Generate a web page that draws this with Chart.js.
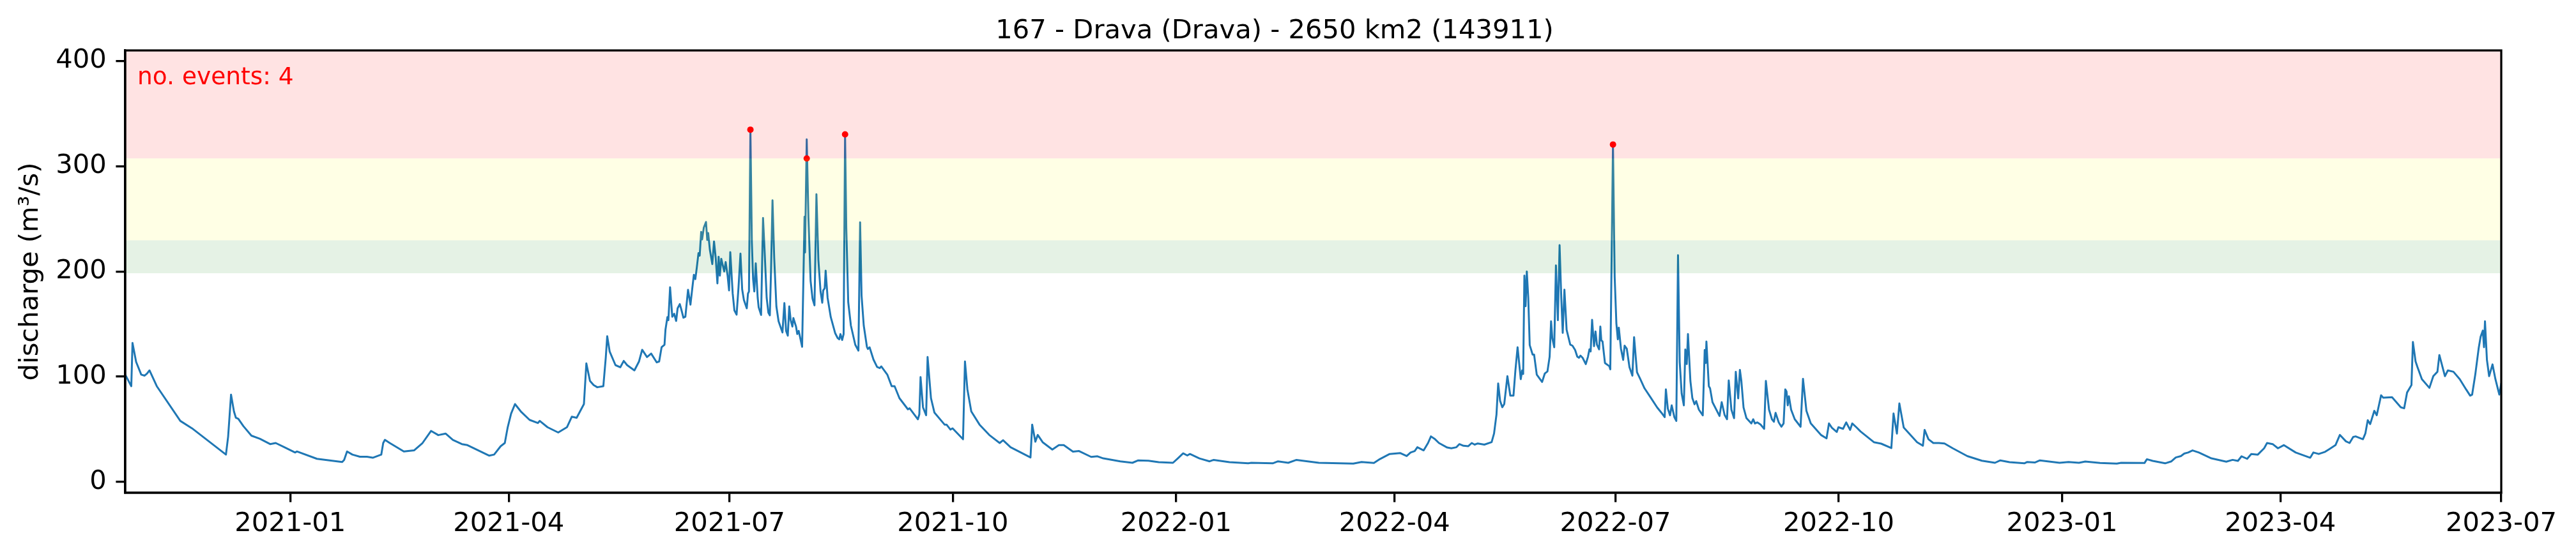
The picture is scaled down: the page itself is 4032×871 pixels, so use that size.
<!DOCTYPE html>
<html>
<head>
<meta charset="utf-8">
<title>Drava discharge</title>
<script src="https://cdn.jsdelivr.net/npm/chart.js@4"></script>
<style>
  body { margin: 0; background: #fff; }
  canvas { display: block; }
</style>
</head>
<body>
<canvas id="dischargeChart" width="4032" height="871"></canvas>
<script>
// x values are days since firstDay
var firstDay = "2020-10-25";
var lastDay = "2023-07-01";
var tickLabels = ["2021-01", "2021-04", "2021-07", "2021-10", "2022-01", "2022-04", "2022-07", "2022-10", "2023-01", "2023-04", "2023-07"];
var yTicks = [0, 100, 200, 300, 400];

var chartTitle = "167 - Drava (Drava) - 2650 km2 (143911)";
var yLabel = "discharge (m³/s)";
var eventsLabel = "no. events: 4";

var dayOffsets = [
  0,2.5,3,4.5,6.6,8,9,10,13,22.7,
  27.5,41.5,42.4,43.6,44.8,45.6,46.6,48.7,52,55.5,
  59.7,62,65.6,70,70.7,79,89.4,90.2,91.4,93.6,
  96.7,99.6,102,105.5,106.3,107,109,114.8,119,122.5,
  126,129,132,135,138.7,141,150,152,154.7,156.4,
  157.6,159,160.6,163,166.6,170,170.8,174,178.4,182,
  184,186,189,190,191.5,193,194.5,197,198,198.6,
  199.6,202,204,205.4,206.8,209.8,211.7,213,215,216.7,
  219,220,221,222.2,222.6,223.4,223.8,224.5,225.4,226.2,
  227,227.6,228.5,229,230,230.8,231.9,232.9,233.6,234.3,
  234.9,235.5,236.2,236.7,237.3,237.7,238.4,239.3,239.8,240.2,
  240.9,241.9,242.6,243.3,244,244.5,245,245.6,246.8,247.4,
  248.2,248.8,249.3,250.3,251,251.9,252.7,253.5,254.2,254.9,
  256.1,256.6,257,257.6,258.2,258.7,259.2,259.8,260.6,261,
  262,262.8,263.5,264.3,265,265.6,266.1,266.7,267.4,268.3,
  269.2,270.8,271.6,272.3,273,273.6,274.2,274.9,275.3,276.4,
  276.9,277.5,278.9,279.5,279.9,280.1,280.8,281.5,282.4,283.2,
  284,284.8,285.6,286.5,287.2,287.6,288.2,288.6,289.4,290.7,
  292.5,293.5,294.2,294.7,295.4,296,296.6,297.1,297.9,299,
  300.8,302.1,302.8,303.4,304.3,305.6,306,306.7,308.3,309.8,
  310.9,311.5,314,315.8,317,319,322.5,323.2,326.6,327.2,
  327.7,328.7,330,330.6,332,333.4,337.6,338.4,340,340.9,
  345.2,346,347,348.6,352,356,360.3,361.7,364.8,373,
  373.7,375,376,378,382,384.7,386.7,390.5,393,398,
  400.6,403,410,415,417.4,421.6,425.8,431.7,433.7,435.9,
  437.6,438.7,442.6,446.8,448.5,455,462.7,464,472.8,475,
  479.2,482.6,491.8,506,509.4,514.5,517,521,525.4,528,
  529.6,531.3,532.4,535,536.8,538,539.7,541.3,544.7,546.4,
  548.5,549.7,551.4,553.4,554.8,556,557.3,560,563,564,
  565,565.7,566.5,567.4,568.2,569.5,570.7,572,572.8,573.7,
  575,575.6,576,576.5,577,577.5,578.1,578.7,579.9,580.5,
  581.6,583.8,584.9,586,586.9,587.5,588,588.8,589.5,590.3,
  591,591.7,592.3,593,593.9,595.4,596.3,597.4,598.3,599,
  599.6,600.5,601.8,602.7,603.3,603.8,604.4,605.2,605.8,606.4,
  607.3,607.8,608.2,608.7,609.7,611.5,611.9,613,613.7,614.4,
  615,615.4,616.3,617.2,617.8,618.7,619.8,621,621.7,622.9,
  624.2,626,628.6,631.2,633,634.3,634.8,635.6,636.5,637.2,
  638.3,639.1,639.8,640.5,641.3,642.2,642.8,643.4,643.9,644.9,
  645.7,646.6,647.3,648.4,650,650.8,651.2,651.5,652.5,653,
  654,656.9,657.8,659,660,660.7,661.8,662.9,663.6,664.6,
  665.3,665.9,666.8,668,670,670.8,671.5,672.5,673.8,675.3,
  676,677.3,678.5,679.3,680,681.3,682.4,683.3,684,684.5,
  685,685.5,686.4,687.9,690.3,691.3,692.7,694.5,698.8,701,
  702,703.2,705.2,705.9,707.8,709.1,710.7,711.6,713.4,715,
  716.8,720.5,723.5,727.7,728.6,730,731,732.8,738.3,740.7,
  741.4,743,745,747.3,749.6,753,759,765,770.4,772.6,
  776.4,782.5,783.7,786.8,788.9,797,800.7,805,807.6,813.7,
  820.6,822.4,832,833,835.4,840.5,843.1,844.9,847,848.4,
  850,851.8,854.4,859.6,865.7,868.3,870.5,872,874.3,876,
  878.7,881.3,882.5,884.8,887,889.4,894.3,900.3,901.6,903.8,
  906.4,908,910.7,912.5,915,916.5,918,919,922,923,
  924,925,926.7,927.7,929.5,930.4,934,937.6,939,940.2,
  942,942.6,943.7,944.5,946.3,949.4,951,952.7,953.5,955.8,
  957,959.3,961.9,964.5,966.2,967,968.3,969.7,970.5,971.4,
  971.9,972.3,973.1,974,975.4,976.6,978.2,979
];

var discharge = [
  102,91,132,114,102,101,103,106,91,58,
  51,26,43,83,67,61,60,53,44,41,
  36,37,33,28,29,22,19,21,29,26,
  24,24,23,26,37,40,37,29,30,37,
  48.5,44.5,46,40,36,35,25,26,34,37,
  52,65,74,67,59,56,58,52,47,52,
  62,61,74,112.6,96,92,90,91,118,138.5,
  124,111,109,115,111,106,114.5,125.6,118.7,122,
  113.6,114.5,128,130.4,144.6,156.7,153.7,185,157,159.8,
  153,165,169,165,156,157,182.6,168.5,183,196.8,
  192.7,203.6,217.4,215,237.6,230.5,241.7,247,230,236.6,
  220.4,207,228.5,213,188.7,214,196,212,200,209,
  196,182,218.4,179,163,159,185,217,183,173,
  165,179,181,334.7,227.5,193,181,207.7,175,166,
  158.7,250.8,217,175,160.8,158.3,201,267.6,213,166.8,
  152.7,142,170,143.6,139,166.8,153.7,147.6,155.7,147.6,
  140.5,143.6,128.4,201,252,218,325.6,251.8,191,174,
  167.8,273.4,211,181,170.3,182,184,200.8,175,156.7,
  141.5,136.9,135.5,140.5,134.9,140.5,330.3,241.7,170.9,148.6,
  130.4,124.8,246.7,177,148.6,128.4,126.4,128,116.3,109.2,
  108.2,109.8,102,91,91,79.6,69,70,59.5,64.3,
  99.7,71,63.4,118.7,79.6,66,54.5,54.5,49.8,51,
  40.6,114.5,88,67,54.5,44.7,37,39.7,33,23.3,
  54.5,38.3,44.7,37.8,30.8,35,35,28.8,29.4,23.8,
  24.4,22.4,19.6,18.2,20.5,20.2,18.8,18.2,22.4,27.2,
  25.2,26.6,22.4,19.6,21,18.8,17.7,18.2,17.7,19.6,
  18.2,21,18.2,17.4,19,18,21.8,26.6,27.4,24.6,
  28,29.4,33,30,37,43.3,40.6,37,32.7,32,
  33,36,34.4,34,37,35.5,36.6,35.5,37.8,46,
  64,93.6,77,71,74,100.5,82,82,106,128,
  97.7,106,102.6,196,167,200,175,130,121,121,
  102,95,103,105,119,152.7,136.6,128,205.7,153.7,
  225,175,141.6,182.7,144.6,130.5,129.5,125.4,119,118,
  120,118,112,119,126,124,154,129,143,130.5,
  126,147.7,134.5,133.5,113,110,107,320.6,195,150.7,
  135.5,146.7,126.5,116,129.5,126.5,109,101,137.6,104.2,
  98,89,80,70.8,65.7,61.6,88,69.7,63.3,72.8,
  61.6,58,215.4,114,84,72.8,125.8,112,140.5,96,
  79.8,73.8,76.8,68.7,63.3,125.4,113,133.4,91,89,
  75.8,62.7,75.8,63.7,59.6,96.4,68.7,60.6,104.7,79.4,
  106.5,96,70.7,60.6,55.6,59.6,55.6,56.6,54.6,50.5,
  96,68.7,59.6,57.2,65.7,56.6,52.5,55.6,88,86,
  72.8,81.5,68.7,59.6,52.5,98,67.7,55.6,44.5,41.4,
  55.6,51.5,47.5,52,50.5,56.6,49.5,55.6,51.7,48,
  44.7,37.8,36.4,32.2,65,46,74.6,51.7,37.8,34.4,
  49.5,40.6,37,37,36.6,32,24.6,20.2,18.2,20.5,
  18.8,17.7,19,18.5,20.5,18.2,19,18.2,19.4,18,
  17.4,18.2,18,21.6,20,17.7,19.6,23.3,24.6,27,
  28,30,28,22.4,19.3,21,20,24.4,22,26.6,
  26,32,37,36,32,35,28,23,28,26.6,
  28.6,31,35,44.7,38.6,37,42.8,43.3,40.6,46,
  58.7,55,67.6,63.4,82.4,80,80.5,71,70,85,
  92,133,114.5,109,97.7,89.4,100.5,104.7,120.6,100.5,
  106,104.7,97.7,88,82,83,102,127,138,143.8,
  128,152.7,116,100.5,111.7,97.7,83,93.6
];

var eventDays = [257.6, 280.8, 296.6, 613];
var eventValues = [334.7, 307.4, 330.3, 320.6];

// warning levels: green from 198, yellow from 229.5, red from 307.4 up to the axis top
var levelEdges = [198.3, 229.6, 307.4, 410];
var levelColors = ["rgba(0,128,0,0.1)", "rgba(255,255,0,0.1)", "rgba(255,0,0,0.11)"];

var yMin = -10.3;
var yMax = 410;
var font = "'DejaVu Sans'";

function daysSinceStart(dateString) {
    return (Date.parse(dateString) - Date.parse(firstDay)) / 86400000;
}

var tickDays = tickLabels.map(function (label) { return daysSinceStart(label + "-01"); });

// bands go over the line, same as the picture
var bandsPlugin = {
    id: "bands",
    afterDatasetsDraw: function (chart) {
        var c = chart.ctx, area = chart.chartArea, y = chart.scales.y;
        c.save();
        levelColors.forEach(function (color, i) {
            var top = y.getPixelForValue(levelEdges[i + 1]);
            var bottom = y.getPixelForValue(levelEdges[i]);
            c.fillStyle = color;
            c.fillRect(area.left, top, area.right - area.left, bottom - top);
        });
        c.restore();
    },
    afterDraw: function (chart) {
        var c = chart.ctx, area = chart.chartArea;
        c.save();
        c.strokeStyle = "#000";
        c.lineWidth = 3.3;
        c.strokeRect(area.left, area.top, area.right - area.left, area.bottom - area.top);
        c.fillStyle = "#f00";
        c.font = "37.5px " + font;
        c.textBaseline = "alphabetic";
        c.fillText(eventsLabel, area.left + 19, area.top + 52.5);
        c.restore();
    }
};

var ctx = document.getElementById("dischargeChart").getContext("2d");
var chart = new Chart(ctx, {
    type: "line",
    data: {
        datasets: [
            {
                label: "events",
                data: eventDays.map(function (d, i) { return { x: d, y: eventValues[i] }; }),
                showLine: false,
                pointRadius: 5,
                pointBackgroundColor: "#f00",
                pointBorderWidth: 0,
                order: 0
            },
            {
                label: "discharge",
                data: dayOffsets.map(function (d, i) { return { x: d, y: discharge[i] }; }),
                borderColor: "#1f77b4",
                borderWidth: 3,
                borderJoinStyle: "round",
                borderCapStyle: "round",
                pointRadius: 0,
                tension: 0,
                order: 1
            }
        ]
    },
    options: {
        responsive: false,
        animation: false,
        devicePixelRatio: 1,
        layout: { padding: { left: 0, right: 42, top: 0, bottom: 0 } },
        plugins: {
            legend: { display: false },
            tooltip: { enabled: false },
            title: {
                display: true,
                text: chartTitle,
                color: "#000",
                font: { family: font, size: 41.67, weight: "normal", lineHeight: 1.2 },
                padding: { top: 24, bottom: 5 }
            }
        },
        scales: {
            x: {
                type: "linear",
                min: 0,
                max: daysSinceStart(lastDay),
                afterBuildTicks: function (scale) {
                    scale.ticks = tickDays.map(function (d) { return { value: d }; });
                },
                afterFit: function (scale) {
                    scale.height = 99;
                    scale.paddingLeft = 0;
                    scale.paddingRight = 117;
                },
                border: { color: "#000", width: 3.3 },
                grid: { drawOnChartArea: false, drawTicks: true, tickLength: 14.6, lineWidth: 3.3, color: "#000" },
                ticks: {
                    autoSkip: false,
                    maxRotation: 0,
                    padding: 10,
                    color: "#000",
                    font: { family: font, size: 41.67 },
                    callback: function (value, index) { return tickLabels[index]; }
                }
            },
            y: {
                min: yMin,
                max: yMax,
                afterBuildTicks: function (scale) {
                    scale.ticks = yTicks.map(function (v) { return { value: v }; });
                },
                afterFit: function (scale) { scale.width = 196; },
                border: { color: "#000", width: 3.3 },
                grid: { drawOnChartArea: false, drawTicks: true, tickLength: 14.6, lineWidth: 3.3, color: "#000" },
                title: {
                    display: true,
                    text: yLabel,
                    color: "#000",
                    font: { family: font, size: 41.67, lineHeight: 1.2 },
                    padding: { top: 23, bottom: 0 }
                },
                ticks: {
                    padding: 14.6,
                    color: "#000",
                    font: { family: font, size: 41.67 }
                }
            }
        }
    },
    plugins: [bandsPlugin]
});
</script>
</body>
</html>
